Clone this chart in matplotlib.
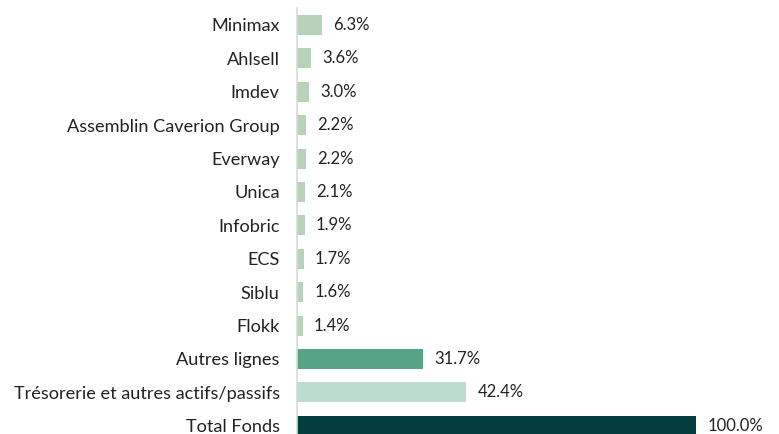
import matplotlib
matplotlib.use("Agg")
from matplotlib import pyplot as plt

labels = ["Minimax", "Ahlsell", "Imdev", "Assemblin Caverion Group", "Everway",
          "Unica", "Infobric", "ECS", "Siblu", "Flokk", "Autres lignes",
          "Trésorerie et autres actifs/passifs", "Total Fonds"]
values = [6.3, 3.6, 3.0, 2.2, 2.2, 2.1, 1.9, 1.7, 1.6, 1.4, 31.7, 42.4, 100.0]
colors = ["#b6d3b9"] * 10 + ["#56a386", "#bcdcd0", "#033d3c"]

plt.rcParams['font.family'] = ['Lato', 'DejaVu Sans']

fig = plt.figure(figsize=(7.79, 4.34), dpi=100)
W, H = 779, 434
ax = fig.add_axes([297 / W, 0, (W - 297) / W, (434 - 8) / H])

pos = list(range(len(labels)))
ax.barh(pos, values, height=0.6, color=colors)
ax.set_xlim(0, (W - 297) / 399 * 100)
ax.set_ylim(12.246, -0.509)

for y, v in zip(pos, values):
    ax.annotate(f"{v:.1f}%", (v, y), xytext=(8, 0), textcoords="offset points",
                va="center", ha="left", fontsize=12, color="#222222")

ax.set_yticks(pos)
ax.set_yticklabels(labels, fontsize=13.1, color="#222222")
ax.tick_params(axis="y", length=0, pad=12.5)
ax.set_xticks([])
for s in ["top", "right", "bottom"]:
    ax.spines[s].set_visible(False)
ax.spines["left"].set_color("#d9d9d9")
ax.spines["left"].set_linewidth(1.2)

fig.savefig("out.png", dpi=100)
